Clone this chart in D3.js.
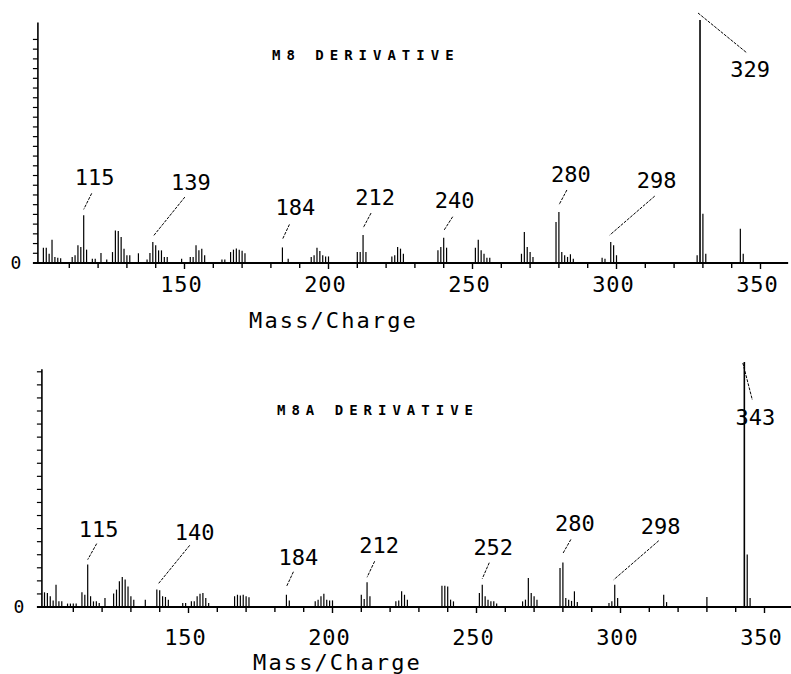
<!DOCTYPE html>
<html>
<head>
<meta charset="utf-8">
<script src="https://cdn.jsdelivr.net/npm/d3@7"></script>
<style>
  html, body { margin: 0; padding: 0; background: #fff; }
  svg { display: block; }
  text { font-family: "DejaVu Sans Mono", monospace; fill: #000; }
</style>
</head>
<body>
<svg id="chart" width="791" height="674"></svg>
<script>
// ---------------- DATA ----------------
const xTickValues = [150, 200, 250, 300, 350];
const xAxisTitle = "Mass/Charge";

// M8 derivative spectrum (m/z, relative intensity %)
const m8Title = "M8 DERIVATIVE";
const m8Mz = [101,102,103,104,105,106,107,111,112,113,114,115,116,118,119,121,123,125,126,127,128,129,130,131,134,137,138,139,140,141,142,143,144,149,152,153,154,155,156,157,163,164,166,167,168,169,170,171,184,186,194,195,196,197,198,199,200,210,211,212,213,222,223,224,225,226,238,239,240,241,251,252,253,254,255,256,267,268,269,270,271,279,280,281,282,283,284,285,295,296,298,299,300,328,329,330,331,343,344];
const m8Int = [6.3,6.3,3.8,9.6,2.5,2.2,2.0,2.5,3.2,7.3,6.6,19.6,5.5,1.8,1.8,4.1,1.4,4.5,13.4,13.2,10.7,5.9,3.2,3.2,4.0,1.4,4.1,8.6,7.3,5.2,5.2,2.5,2.5,1.8,2.5,2.5,7.3,5.2,5.9,3.2,1.4,1.4,4.5,5.5,6.0,5.5,5.0,4.0,6.4,1.8,2.5,3.2,6.3,4.9,3.2,2.7,2.7,4.5,4.5,11.5,4.5,2.7,3.2,6.6,5.9,3.8,5.2,6.6,10.4,6.3,6.3,9.6,5.2,3.8,2.2,2.2,3.8,12.8,6.6,4.5,2.5,16.9,21.0,4.5,3.2,2.5,3.6,1.8,2.2,1.8,8.6,7.3,3.2,3.2,100,20.3,3.8,14.1,3.8];
const m8Labels = [115, 139, 184, 212, 240, 280, 298, 329];

// M8A derivative spectrum
const m8aTitle = "M8A DERIVATIVE";
const m8aMz = [100,101,102,103,104,105,106,108,109,110,111,113,114,115,116,117,118,119,121,124,125,126,127,128,129,130,131,135,139,140,141,142,143,148,149,151,152,153,154,155,156,157,166,167,168,169,170,171,184,185,194,195,196,197,198,199,200,210,211,212,213,222,223,224,225,226,238,239,240,241,242,251,252,253,254,255,256,257,266,267,268,269,270,271,279,280,281,282,283,284,285,296,297,298,299,315,316,330,343,344,345];
const m8aInt = [6.0,5.7,4.4,2.7,9.1,2.3,2.3,1.4,1.4,1.4,1.4,6.0,5.0,17.3,4.4,2.3,2.3,1.6,3.7,5.5,7.1,10.5,12.2,11.2,8.4,4.4,3.0,3.0,7.1,6.8,4.4,4.1,3.0,1.6,1.6,2.3,2.3,4.4,5.4,5.7,3.7,1.6,4.4,5.0,4.7,5.0,4.4,4.0,5.0,2.7,2.3,3.0,4.4,5.4,3.0,2.7,2.7,5.0,3.3,10.1,4.4,2.3,2.7,6.4,5.0,3.0,8.7,8.7,8.4,3.0,2.3,5.7,9.1,4.4,3.0,2.3,2.3,1.4,2.3,3.0,11.8,5.7,4.4,3.0,15.9,18.2,3.7,3.0,2.5,6.4,2.0,1.6,2.3,9.1,3.7,5.0,2.0,4.1,100,21.4,3.7];
const m8aLabels = [115, 140, 184, 212, 252, 280, 298, 343];

// ---------------- LAYOUT (pixels, not data) ----------------
// per label: [textDx, textDy, line x1 dx, line y1 dy, line x2 dx, line y2 dy] relative to peak top
const m8LabelLayout = [[11,-30,8,-22,0,-6],[38,-52,32,-45,0.5,-6],[13,-32,7,-23,0,-8],[12,-30,8,-22,0,-7],[11,-30,9,-21,0,-7],[12,-30,8,-22,0,-7],[46,-54,44,-46,-1,-7],[50,57,-2,-7,47,33]];
const m8aLabelLayout = [[11,-28,9,-21,0,-5],[35,-50,30,-45,-1,-7],[12,-30,7,-23,0,-8],[12,-29,7.6,-21,0,-5],[11,-30,7,-22,0,-6],[12,-31,8,-23,0,-9],[46,-51,44,-44,-1,-5],[11,63,-1.5,1,8,38]];

const panels = [
  { title: m8Title, mz: m8Mz, inten: m8Int, labels: m8Labels, layout: m8LabelLayout,
    x0: 40.5, y0: 263, y100: 20, yAxisTop: 99, yTickStep: 4, yTickMax: 96,
    titleX: 272, titleY: 60, tickLabelY: 292, axisTitleY: 328, zeroX: 16 },
  { title: m8aTitle, mz: m8aMz, inten: m8aInt, labels: m8aLabels, layout: m8aLabelLayout,
    x0: 44.5, y0: 607, y100: 362, yAxisTop: 97, yTickStep: 16/3, yTickMax: 96.1,
    titleX: 277, titleY: 415, tickLabelY: 645, axisTitleY: 670, zeroX: 19 }
];

const svg = d3.select("#chart");
svg.append("rect").attr("width", 791).attr("height", 674).attr("fill", "#fff");

panels.forEach(p => {
  const g = svg.append("g");
  const x = d3.scaleLinear().domain([100, 350]).range([p.x0, p.x0 + 250 * 2.88]);
  const y = d3.scaleLinear().domain([0, 100]).range([p.y0, p.y100]);
  const xMin = 99.1, xMax = 359.6;

  // y axis line and ticks
  g.append("line").attr("x1", x(xMin)).attr("x2", x(xMin))
    .attr("y1", y(0)).attr("y2", y(p.yAxisTop))
    .attr("stroke", "#000").attr("stroke-width", 1.6);
  const yTicks = d3.range(p.yTickStep, p.yTickMax, p.yTickStep);
  g.selectAll(".yt").data(yTicks).enter().append("line")
    .attr("x1", x(xMin) - 5).attr("x2", x(xMin))
    .attr("y1", d => y(d)).attr("y2", d => y(d))
    .attr("stroke", "#000").attr("stroke-width", 1.2);
  g.append("text").attr("x", p.zeroX).attr("y", y(0) + 6)
    .attr("text-anchor", "middle").attr("font-size", 18).text("0");

  // x axis line + ticks
  g.append("line").attr("x1", x(xMin) - 5).attr("x2", x(xMax))
    .attr("y1", y(0)).attr("y2", y(0))
    .attr("stroke", "#000").attr("stroke-width", 2);
  const xTicks = d3.range(110, 351, 10);
  g.selectAll(".xt").data(xTicks).enter().append("line")
    .attr("x1", d => x(d)).attr("x2", d => x(d))
    .attr("y1", y(0)).attr("y2", d => y(0) + (d % 50 === 0 ? 6 : 5))
    .attr("stroke", "#000").attr("stroke-width", 1.4);
  g.selectAll(".xl").data(xTickValues).enter().append("text")
    .attr("x", d => x(d) - 3).attr("y", p.tickLabelY)
    .attr("text-anchor", "middle").attr("font-size", 22)
    .attr("letter-spacing", 1).text(d => d);
  g.append("text").attr("x", (x(150) + x(250)) / 2 + 5 + (p.x0 - 40.5) * 0).attr("y", p.axisTitleY)
    .attr("text-anchor", "middle").attr("font-size", 22)
    .attr("letter-spacing", 2.1).text(xAxisTitle);

  // title
  g.append("text").attr("x", p.titleX).attr("y", p.titleY)
    .attr("font-size", 14).attr("font-weight", "bold")
    .attr("letter-spacing", 6).text(p.title);

  // bars
  const bars = p.mz.map((m, i) => ({ m, v: p.inten[i] }));
  g.selectAll(".bar").data(bars).enter().append("line")
    .attr("x1", d => x(d.m)).attr("x2", d => x(d.m))
    .attr("y1", y(0)).attr("y2", d => y(d.v))
    .attr("stroke", "#000").attr("stroke-width", d => d.v > 50 ? 1.6 : 1.2);

  // annotations
  p.labels.forEach((m, i) => {
    const L = p.layout[i];
    const v = p.inten[p.mz.indexOf(m)];
    const px = x(m), py = y(v);
    g.append("line")
      .attr("x1", px + L[2]).attr("y1", py + L[3])
      .attr("x2", px + L[4]).attr("y2", py + L[5])
      .attr("stroke", "#000").attr("stroke-width", 1)
      .attr("stroke-dasharray", "3 1.2");
    g.append("text").attr("x", px + L[0]).attr("y", py + L[1])
      .attr("text-anchor", "middle").attr("font-size", 22).text(m);
  });
});
</script>
</body>
</html>
